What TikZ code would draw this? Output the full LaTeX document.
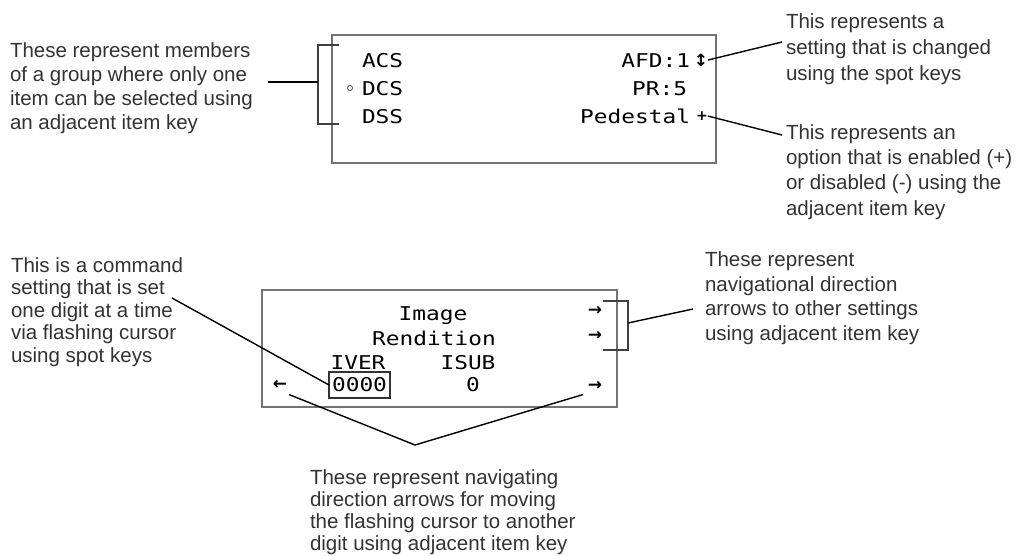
\documentclass[tikz,border=0pt]{standalone}
\usepackage{fontspec}
\setmainfont{Liberation Sans}
\newfontfamily\lcdfont[FakeStretch=1.2]{DejaVu Sans Mono}
\newfontfamily\symfont{DejaVu Sans}
\begin{document}
\begin{tikzpicture}[x=1pt,y=-1pt,
  note/.style={anchor=north west, inner sep=0pt, outer sep=0pt, align=left, text=black!80},
  lcd/.style={inner sep=0pt, outer sep=0pt, font=\lcdfont\fontsize{19}{19}\selectfont},
  screen/.style={draw=black!55, line width=2.5pt, inner sep=0pt},
  lead/.style={line width=1.4pt, black},
  brack/.style={line width=1.8pt, black!75},
  navarrow/.style={inner sep=0pt, outer sep=0pt, font=\symfont\fontsize{17}{17}\selectfont\bfseries}
]
\useasboundingbox (0,0) rectangle (1026,555);

% ---------- screens ----------
\node[screen, minimum width=384pt, minimum height=128pt] (top) at (524,99) {};
\node[screen, minimum width=355pt, minimum height=117pt] (bot) at (439.5,348.5) {};

% ---------- top screen contents ----------
\node[lcd, anchor=base west] (acs) at (362,67) {ACS};
\node[lcd, anchor=base west] (dcs) at (362,95) {DCS};
\node[lcd, anchor=base west] (dss) at (362,123) {DSS};
\node[circle, draw=black!60, line width=1pt, minimum size=5pt, inner sep=0pt] (radio) at (350,88) {};
\node[lcd, anchor=base east] (afd) at (690,67) {AFD:1};
\node[lcd, anchor=base east] (pr) at (687,95) {PR:5};
\node[lcd, anchor=base east] (ped) at (690,123) {Pedestal};
\node[navarrow] (updown) at (701,60) {↕};
\node[inner sep=0pt, outer sep=0pt, font=\symfont\fontsize{14}{14}\selectfont\bfseries] (plus) at (702,116) {+};

% ---------- bottom screen contents ----------
\node[lcd, anchor=base] (image) at (433,320) {Image};
\node[lcd, anchor=base] (rend) at (434,345) {Rendition};
\node[lcd, anchor=base] (iver) at (358,369) {IVER};
\node[lcd, anchor=base] (isub) at (468,369) {ISUB};
\node[lcd, draw=black!80, line width=1.2pt, minimum width=61pt, minimum height=26pt] (cur) at (359.5,385) {0000};
\node[lcd] (isubv) at (473,385) {0};
\node[navarrow] (ra1) at (595,311) {→};
\node[navarrow] (ra2) at (595,336) {→};
\node[navarrow] (ra3) at (595,386) {→};
\node[navarrow] (la) at (280,385) {←};

% ---------- brackets ----------
\coordinate (lbt) at (318,45);
\coordinate (lbb) at (318,124);
\coordinate (lbm) at (318,82);
\draw[brack] (339,45) -- (lbt) -- (lbb) -- (339,124);
\coordinate (rbt) at (628,301);
\coordinate (rbb) at (628,350);
\coordinate (rbm) at (628,323);
\draw[brack] (603,301) -- (rbt) -- (rbb) -- (603,350);

% ---------- annotation texts ----------
\node[note, font=\fontsize{20.5}{24}\selectfont] (ltext) at (10,42.5)
  {These represent members\\of a group where only one\\item can be selected using\\an adjacent item key};
\node[note, font=\fontsize{20.5}{26}\selectfont] (tr1) at (786,13.5)
  {This represents a\\setting that is changed\\using the spot keys};
\node[note, font=\fontsize{20.5}{25.3}\selectfont] (tr2) at (786,124.5)
  {This represents an\\option that is enabled (+)\\or disabled (-) using the\\adjacent item key};
\node[note, font=\fontsize{20.5}{24.7}\selectfont] (tr3) at (705,251.5)
  {These represent\\navigational direction\\arrows to other settings\\using adjacent item key};
\node[note, font=\fontsize{20.5}{22.5}\selectfont] (ll) at (11,257.5)
  {This is a command\\setting that is set\\one digit at a time\\via flashing cursor\\using spot keys};
\node[note, font=\fontsize{20.5}{22}\selectfont] (btext) at (310,469.5)
  {These represent navigating\\direction arrows for moving\\the flashing cursor to another\\digit using adjacent item key};

% ---------- connectors ----------
\coordinate (lstart) at (268,82);
\draw[lead] (lstart) -- (lbm);
\coordinate (tr1end) at (782,42);
\draw[lead] (updown.east) -- (tr1end);
\coordinate (tr2end) at (782,135);
\draw[lead] (plus.east) -- (tr2end);
\coordinate (tr3end) at (693,309);
\draw[lead] (rbm) -- (tr3end);
\coordinate (llstart) at (172,298);
\draw[lead] (llstart) -- (cur.west);
\coordinate (apex) at (415,445);
\draw[lead] ([xshift=2pt,yshift=-5pt]la.south east) -- (apex) -- ([xshift=-5pt,yshift=-4pt]ra3.south west);
\end{tikzpicture}
\end{document}
